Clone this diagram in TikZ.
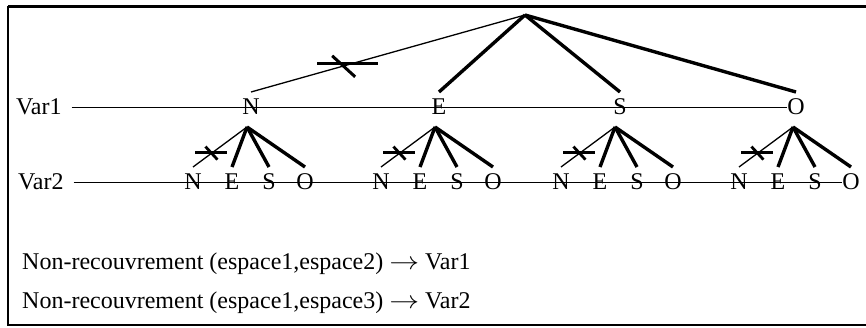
\documentclass[tikz,border=0pt]{standalone}
\usepackage{fontspec}
\setmainfont{Liberation Serif}
\usepackage{amsmath}
\tikzset{lettre/.style = {inner sep = 0, outer ysep = 7pt, text height = 16pt, text depth = 0pt}}
\tikzset{fin/.style = {line width = 1.3pt}}
\tikzset{epais/.style = {line width = 3.4pt}}
\tikzset{niveau/.style = {line width = 0.9pt}}
\newcommand{\fleche}{\scalebox{1.2}[1]{$\rightarrow$}}

\begin{document}
\begin{tikzpicture}[x=1pt, y=-1pt, font=\fontsize{24}{28}\selectfont]
    \useasboundingbox (0,0) rectangle (866,328);
    % cadre
    \draw[line width=3pt] (866,7) -- (8,7);
    \draw[line width=2pt] (8,6) -- (8,325) -- (866,325);

    % Var1
    \node[anchor=west, inner sep=0] (var1) at (16,107) {Var1};
    \node[lettre] (N1) at (251,107) {N};
    \node[lettre] (E1) at (439,107) {E};
    \node[lettre] (S1) at (620,107) {S};
    \node[lettre] (O1) at (796,107) {O};
    \draw[niveau] ([xshift=10pt]var1.east) -- (O1.west);

    \coordinate (racine) at (525,15);
    \draw[fin] (racine) -- coordinate[pos=0.66] (coupe) (N1.north);
    \draw[epais] (racine) -- (E1.north);
    \draw[epais] (racine) -- (S1.north);
    \draw[epais] (racine) -- (O1.north);
    \draw[line width=3pt] ([shift={(-27,-2)}]coupe) -- ([shift={(34,-2)}]coupe);
    \draw[line width=3pt] ([shift={(-12,-10)}]coupe) -- ([shift={(11,11)}]coupe);

    % Var2
    \node[anchor=west, inner sep=0] (var2) at (18,182) {Var2};
    \foreach \p/\x in {N/247,E/435,S/615,O/793} {
      \coordinate (h\p) at (\x,127);
      \node[lettre] (\p-N) at (\x-54,182) {N};
      \node[lettre] (\p-E) at (\x-15,182) {E};
      \node[lettre] (\p-S) at (\x+22,182) {S};
      \node[lettre] (\p-O) at (\x+58,182) {O};
      \draw[fin] (h\p) -- coordinate[pos=0.64] (x\p) (\p-N.north);
      \draw[epais] (h\p) -- (\p-E.north);
      \draw[epais] (h\p) -- (\p-S.north);
      \draw[epais] (h\p) -- (\p-O.north);
      \draw[line width=2.8pt] ([shift={(-17,0)}]x\p) -- ([shift={(15,0)}]x\p);
      \draw[line width=2.8pt] ([shift={(-7,-6)}]x\p) -- ([shift={(5,7)}]x\p);
    }
    \draw[niveau] ([xshift=10pt]var2.east) -- (O-O.west);

    % contraintes
    \node[anchor=west, inner sep=0] (c1) at (22,264) {Non-recouvrement (espace1,espace2) \fleche{} Var1};
    \node[anchor=west, inner sep=0] (c2) at (22,303) {Non-recouvrement (espace1,espace3) \fleche{} Var2};
\end{tikzpicture}
\end{document}
